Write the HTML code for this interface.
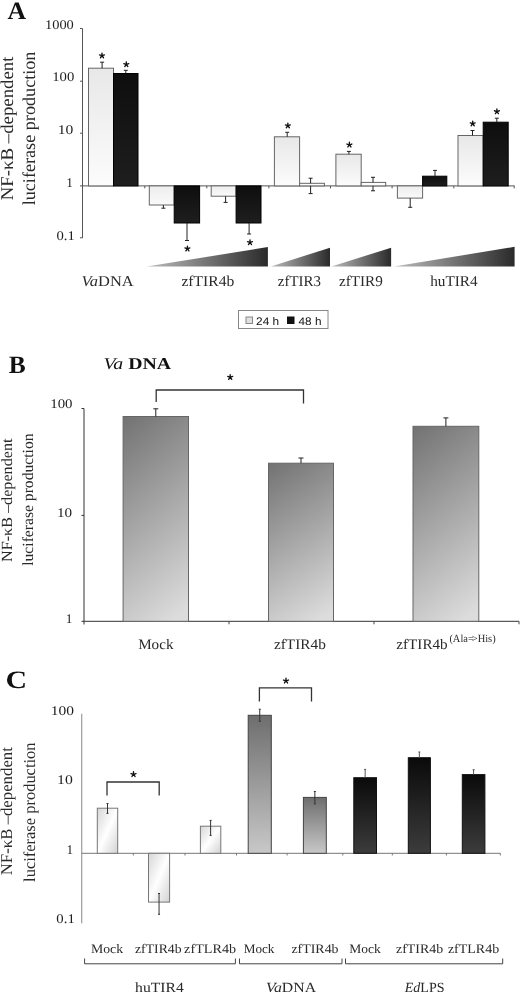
<!DOCTYPE html><html><head><meta charset="utf-8"><style>html,body{margin:0;padding:0;background:#fff;}svg{display:block;filter:grayscale(1);}text{text-rendering:geometricPrecision;}</style></head><body>
<svg width="520" height="992" viewBox="0 0 520 992">
<defs>
<linearGradient id="lgA" x1="0" y1="0" x2="0" y2="1"><stop offset="0" stop-color="#e8e8e8"/><stop offset="1" stop-color="#fcfcfc"/></linearGradient>
<linearGradient id="lgAn" x1="0" y1="0" x2="0" y2="1"><stop offset="0" stop-color="#ededed"/><stop offset="1" stop-color="#fafafa"/></linearGradient>
<linearGradient id="dkA" x1="0" y1="0" x2="0" y2="1"><stop offset="0" stop-color="#0e0e0e"/><stop offset="1" stop-color="#1e1e1e"/></linearGradient>
<linearGradient id="wedge" x1="0" y1="0" x2="1" y2="0"><stop offset="0" stop-color="#bdbdbd"/><stop offset="1" stop-color="#2a2a2a"/></linearGradient>
<linearGradient id="gB" x1="0" y1="0" x2="0.3" y2="1.12"><stop offset="0" stop-color="#727272"/><stop offset="1" stop-color="#dcdcdc"/></linearGradient>
<linearGradient id="gCw" x1="0" y1="0" x2="1" y2="1"><stop offset="0" stop-color="#d6d6d6"/><stop offset="0.5" stop-color="#ffffff"/><stop offset="1" stop-color="#d2d2d2"/></linearGradient>
<linearGradient id="gCg" x1="0" y1="0" x2="0" y2="1"><stop offset="0" stop-color="#6e6e6e"/><stop offset="1" stop-color="#c8c8c8"/></linearGradient>
<linearGradient id="gCk" x1="0" y1="0" x2="0" y2="1"><stop offset="0" stop-color="#0a0a0a"/><stop offset="1" stop-color="#3c3c3c"/></linearGradient>
</defs>
<text x="7.50" y="18.5" font-family='"Liberation Serif", serif' font-size="25" font-weight="bold" font-style="normal" fill="#111" textLength="18.56" lengthAdjust="spacingAndGlyphs">A</text>
<line x1="82.5" y1="28.5" x2="82.5" y2="238" stroke="#555" stroke-width="1"/>
<line x1="80.0" y1="28.5" x2="82.5" y2="28.5" stroke="#555" stroke-width="1"/>
<line x1="80.0" y1="81.2" x2="82.5" y2="81.2" stroke="#555" stroke-width="1"/>
<line x1="80.0" y1="133.2" x2="82.5" y2="133.2" stroke="#555" stroke-width="1"/>
<line x1="80.0" y1="185.9" x2="82.5" y2="185.9" stroke="#555" stroke-width="1"/>
<line x1="80.0" y1="237.8" x2="82.5" y2="237.8" stroke="#555" stroke-width="1"/>
<text x="45.03" y="28.5" font-family='"Liberation Serif", serif' font-size="13.3" font-weight="normal" font-style="normal" fill="#1e1e1e" textLength="28.81" lengthAdjust="spacingAndGlyphs">1000</text>
<text x="52.19" y="81.3" font-family='"Liberation Serif", serif' font-size="13.3" font-weight="normal" font-style="normal" fill="#1e1e1e" textLength="22.07" lengthAdjust="spacingAndGlyphs">100</text>
<text x="57.75" y="134.1" font-family='"Liberation Serif", serif' font-size="13.3" font-weight="normal" font-style="normal" fill="#1e1e1e" textLength="15.59" lengthAdjust="spacingAndGlyphs">10</text>
<text x="66.35" y="186.8" font-family='"Liberation Serif", serif' font-size="13.3" font-weight="normal" font-style="normal" fill="#1e1e1e">1</text>
<text x="56.50" y="239.5" font-family='"Liberation Serif", serif' font-size="13.3" font-weight="normal" font-style="normal" fill="#1e1e1e" textLength="18.29" lengthAdjust="spacingAndGlyphs">0.1</text>
<line x1="82.5" y1="185.9" x2="514.5" y2="185.9" stroke="#555" stroke-width="1"/>
<line x1="144.8" y1="185.9" x2="144.8" y2="188.4" stroke="#555" stroke-width="1"/>
<line x1="206.8" y1="185.9" x2="206.8" y2="188.4" stroke="#555" stroke-width="1"/>
<line x1="268.9" y1="185.9" x2="268.9" y2="188.4" stroke="#555" stroke-width="1"/>
<line x1="330.5" y1="185.9" x2="330.5" y2="188.4" stroke="#555" stroke-width="1"/>
<line x1="392.1" y1="185.9" x2="392.1" y2="188.4" stroke="#555" stroke-width="1"/>
<line x1="453.8" y1="185.9" x2="453.8" y2="188.4" stroke="#555" stroke-width="1"/>
<line x1="514.2" y1="185.9" x2="514.2" y2="188.4" stroke="#555" stroke-width="1"/>
<rect x="88.5" y="68.2" width="25.00" height="117.70" fill="url(#lgA)" stroke="#666" stroke-width="1"/>
<line x1="102.1" y1="68.2" x2="102.1" y2="62.2" stroke="#222" stroke-width="1"/>
<line x1="100.1" y1="62.2" x2="104.1" y2="62.2" stroke="#222" stroke-width="1"/>
<rect x="113.5" y="73.5" width="24.50" height="112.40" fill="url(#dkA)" stroke="#000" stroke-width="1"/>
<line x1="125.8" y1="73.5" x2="125.8" y2="70.3" stroke="#222" stroke-width="1"/>
<line x1="123.8" y1="70.3" x2="127.8" y2="70.3" stroke="#222" stroke-width="1"/>
<rect x="149.3" y="185.9" width="24.90" height="19.10" fill="url(#lgAn)" stroke="#666" stroke-width="1"/>
<line x1="163.4" y1="205" x2="163.4" y2="208.2" stroke="#222" stroke-width="1"/>
<line x1="161.4" y1="208.2" x2="165.4" y2="208.2" stroke="#222" stroke-width="1"/>
<rect x="174.2" y="185.9" width="25.40" height="37.10" fill="url(#dkA)" stroke="#000" stroke-width="1"/>
<line x1="187" y1="223" x2="187" y2="240.5" stroke="#222" stroke-width="1"/>
<line x1="185.0" y1="240.5" x2="189.0" y2="240.5" stroke="#222" stroke-width="1"/>
<rect x="211.2" y="185.9" width="24.90" height="10.30" fill="url(#lgAn)" stroke="#666" stroke-width="1"/>
<line x1="225.6" y1="196.2" x2="225.6" y2="202.4" stroke="#222" stroke-width="1"/>
<line x1="223.6" y1="202.4" x2="227.6" y2="202.4" stroke="#222" stroke-width="1"/>
<rect x="236.1" y="185.9" width="24.90" height="37.10" fill="url(#dkA)" stroke="#000" stroke-width="1"/>
<line x1="249.1" y1="223" x2="249.1" y2="234" stroke="#222" stroke-width="1"/>
<line x1="247.1" y1="234" x2="251.1" y2="234" stroke="#222" stroke-width="1"/>
<rect x="274.4" y="136.8" width="25.20" height="49.10" fill="url(#lgA)" stroke="#666" stroke-width="1"/>
<line x1="287.2" y1="136.8" x2="287.2" y2="132.3" stroke="#222" stroke-width="1"/>
<line x1="285.2" y1="132.3" x2="289.2" y2="132.3" stroke="#222" stroke-width="1"/>
<rect x="299.6" y="183.3" width="24.80" height="2.60" fill="#fdfdfd" stroke="#666" stroke-width="1"/>
<line x1="310.6" y1="178.2" x2="310.6" y2="183.3" stroke="#222" stroke-width="1"/>
<line x1="310.6" y1="185.9" x2="310.6" y2="193.6" stroke="#222" stroke-width="1"/>
<line x1="308.6" y1="178.2" x2="312.6" y2="178.2" stroke="#222" stroke-width="1"/>
<line x1="308.6" y1="193.6" x2="312.6" y2="193.6" stroke="#222" stroke-width="1"/>
<rect x="335.9" y="154.2" width="25.30" height="31.70" fill="url(#lgA)" stroke="#666" stroke-width="1"/>
<line x1="348.9" y1="154.2" x2="348.9" y2="151.4" stroke="#222" stroke-width="1"/>
<line x1="346.9" y1="151.4" x2="350.9" y2="151.4" stroke="#222" stroke-width="1"/>
<rect x="361.2" y="182.4" width="24.50" height="3.50" fill="#fdfdfd" stroke="#666" stroke-width="1"/>
<line x1="373" y1="177.3" x2="373" y2="182.4" stroke="#222" stroke-width="1"/>
<line x1="373" y1="185.9" x2="373" y2="190.8" stroke="#222" stroke-width="1"/>
<line x1="371" y1="177.3" x2="375" y2="177.3" stroke="#222" stroke-width="1"/>
<line x1="371" y1="190.8" x2="375" y2="190.8" stroke="#222" stroke-width="1"/>
<rect x="397.4" y="185.9" width="25.20" height="12.20" fill="url(#lgAn)" stroke="#666" stroke-width="1"/>
<line x1="410.2" y1="198.1" x2="410.2" y2="207.3" stroke="#222" stroke-width="1"/>
<line x1="408.2" y1="207.3" x2="412.2" y2="207.3" stroke="#222" stroke-width="1"/>
<rect x="422.6" y="176.2" width="24.20" height="9.70" fill="url(#dkA)" stroke="#000" stroke-width="1"/>
<line x1="435" y1="176.2" x2="435" y2="170.4" stroke="#222" stroke-width="1"/>
<line x1="433.0" y1="170.4" x2="437.0" y2="170.4" stroke="#222" stroke-width="1"/>
<rect x="458" y="135.5" width="25.20" height="50.40" fill="url(#lgA)" stroke="#666" stroke-width="1"/>
<line x1="472.5" y1="135.5" x2="472.5" y2="130.5" stroke="#222" stroke-width="1"/>
<line x1="470.5" y1="130.5" x2="474.5" y2="130.5" stroke="#222" stroke-width="1"/>
<rect x="483.2" y="122.2" width="25.00" height="63.70" fill="url(#dkA)" stroke="#000" stroke-width="1"/>
<line x1="496.8" y1="122.2" x2="496.8" y2="118.2" stroke="#222" stroke-width="1"/>
<line x1="494.8" y1="118.2" x2="498.8" y2="118.2" stroke="#222" stroke-width="1"/>
<path d="M102.00,55.65L102.00,53.05M102.00,55.65L104.47,54.85M102.00,55.65L103.53,57.75M102.00,55.65L100.47,57.75M102.00,55.65L99.53,54.85" stroke="#111" stroke-width="1.35" stroke-linecap="round" fill="none"/>
<path d="M126.30,64.45L126.30,61.85M126.30,64.45L128.77,63.65M126.30,64.45L127.83,66.55M126.30,64.45L124.77,66.55M126.30,64.45L123.83,63.65" stroke="#111" stroke-width="1.35" stroke-linecap="round" fill="none"/>
<path d="M187.40,248.75L187.40,246.15M187.40,248.75L189.87,247.95M187.40,248.75L188.93,250.85M187.40,248.75L185.87,250.85M187.40,248.75L184.93,247.95" stroke="#111" stroke-width="1.35" stroke-linecap="round" fill="none"/>
<path d="M250.00,242.45L250.00,239.85M250.00,242.45L252.47,241.65M250.00,242.45L251.53,244.55M250.00,242.45L248.47,244.55M250.00,242.45L247.53,241.65" stroke="#111" stroke-width="1.35" stroke-linecap="round" fill="none"/>
<path d="M287.85,125.65L287.85,123.05M287.85,125.65L290.32,124.85M287.85,125.65L289.38,127.75M287.85,125.65L286.32,127.75M287.85,125.65L285.38,124.85" stroke="#111" stroke-width="1.35" stroke-linecap="round" fill="none"/>
<path d="M349.40,144.85L349.40,142.25M349.40,144.85L351.87,144.05M349.40,144.85L350.93,146.95M349.40,144.85L347.87,146.95M349.40,144.85L346.93,144.05" stroke="#111" stroke-width="1.35" stroke-linecap="round" fill="none"/>
<path d="M472.70,123.65L472.70,121.05M472.70,123.65L475.17,122.85M472.70,123.65L474.23,125.75M472.70,123.65L471.17,125.75M472.70,123.65L470.23,122.85" stroke="#111" stroke-width="1.35" stroke-linecap="round" fill="none"/>
<path d="M496.90,111.55L496.90,108.95M496.90,111.55L499.37,110.75M496.90,111.55L498.43,113.65M496.90,111.55L495.37,113.65M496.90,111.55L494.43,110.75" stroke="#111" stroke-width="1.35" stroke-linecap="round" fill="none"/>
<polygon points="146.7,266.5 267.9,266.5 267.9,247.1" fill="url(#wedge)"/>
<polygon points="270.8,266.5 330,266.5 330,247.7" fill="url(#wedge)"/>
<polygon points="331.4,266.5 391.1,266.5 391.1,247.7" fill="url(#wedge)"/>
<polygon points="394,266.5 514.6,266.5 514.6,246.8" fill="url(#wedge)"/>
<text x="81.61" y="286" font-family='"Liberation Serif", serif' font-size="15" font-weight="normal" font-style="normal" fill="#2a2a2a" textLength="52.04" lengthAdjust="spacingAndGlyphs"><tspan font-style="italic">Va</tspan>DNA</text>
<text x="181.46" y="286.2" font-family='"Liberation Serif", serif' font-size="15" font-weight="normal" font-style="normal" fill="#2a2a2a" textLength="52.80" lengthAdjust="spacingAndGlyphs">zfTIR4b</text>
<text x="277.80" y="286.2" font-family='"Liberation Serif", serif' font-size="15" font-weight="normal" font-style="normal" fill="#2a2a2a" textLength="43.12" lengthAdjust="spacingAndGlyphs">zfTIR3</text>
<text x="338.99" y="286.2" font-family='"Liberation Serif", serif' font-size="15" font-weight="normal" font-style="normal" fill="#2a2a2a" textLength="43.84" lengthAdjust="spacingAndGlyphs">zfTIR9</text>
<text x="430.18" y="286.2" font-family='"Liberation Serif", serif' font-size="15" font-weight="normal" font-style="normal" fill="#2a2a2a" textLength="47.50" lengthAdjust="spacingAndGlyphs">huTIR4</text>
<rect x="238.5" y="310.5" width="89.5" height="18" fill="#fff" stroke="#888" stroke-width="1"/>
<rect x="246" y="317" width="6.5" height="6.5" fill="#e0e0e0" stroke="#888" stroke-width="1"/>
<rect x="287.5" y="317" width="6.5" height="6.5" fill="#111" stroke="#111" stroke-width="1"/>
<text x="256.12" y="324.6" font-family='"Liberation Sans", sans-serif' font-size="11" font-weight="normal" font-style="normal" fill="#111" textLength="23.03" lengthAdjust="spacingAndGlyphs">24 h</text>
<text x="298.60" y="324.6" font-family='"Liberation Sans", sans-serif' font-size="11" font-weight="normal" font-style="normal" fill="#111" textLength="22.85" lengthAdjust="spacingAndGlyphs">48 h</text>
<text transform="translate(12.6,200.35) rotate(-90)" x="0" y="0" font-family='"Liberation Serif", serif' font-size="18" font-weight="normal" font-style="normal" fill="#2a2a2a" textLength="143.83" lengthAdjust="spacingAndGlyphs">NF-κB –dependent</text>
<text transform="translate(34.5,205.31) rotate(-90)" x="0" y="0" font-family='"Liberation Serif", serif' font-size="18" font-weight="normal" font-style="normal" fill="#2a2a2a" textLength="153.75" lengthAdjust="spacingAndGlyphs">luciferase production</text>
<text x="8.75" y="373.2" font-family='"Liberation Serif", serif' font-size="25" font-weight="bold" font-style="normal" fill="#111" textLength="16.95" lengthAdjust="spacingAndGlyphs">B</text>
<text x="103.40" y="368.9" font-family='"Liberation Serif", serif' font-size="16.5" font-weight="bold" font-style="normal" fill="#111" textLength="67.75" lengthAdjust="spacingAndGlyphs"><tspan font-style="italic" font-weight="normal">Va</tspan> DNA</text>
<line x1="84.0" y1="408.5" x2="84.0" y2="624.5" stroke="#333" stroke-width="1"/>
<line x1="81.5" y1="408.5" x2="84.0" y2="408.5" stroke="#333" stroke-width="1"/>
<line x1="81.5" y1="515.4" x2="84.0" y2="515.4" stroke="#333" stroke-width="1"/>
<line x1="81.5" y1="621.3" x2="84.0" y2="621.3" stroke="#333" stroke-width="1"/>
<text x="50.26" y="408.2" font-family='"Liberation Serif", serif' font-size="13.3" font-weight="normal" font-style="normal" fill="#1e1e1e" textLength="22.30" lengthAdjust="spacingAndGlyphs">100</text>
<text x="56.93" y="516.9" font-family='"Liberation Serif", serif' font-size="13.3" font-weight="normal" font-style="normal" fill="#1e1e1e" textLength="15.11" lengthAdjust="spacingAndGlyphs">10</text>
<text x="65.75" y="622.7" font-family='"Liberation Serif", serif' font-size="13.3" font-weight="normal" font-style="normal" fill="#1e1e1e">1</text>
<line x1="84.0" y1="621.3" x2="519" y2="621.3" stroke="#333" stroke-width="1"/>
<line x1="229" y1="621.3" x2="229" y2="624.3" stroke="#444" stroke-width="1"/>
<line x1="374" y1="621.3" x2="374" y2="624.3" stroke="#444" stroke-width="1"/>
<line x1="519" y1="621.3" x2="519" y2="624.3" stroke="#444" stroke-width="1"/>
<rect x="123.1" y="416.5" width="65.40" height="204.80" fill="url(#gB)" stroke="#666" stroke-width="1"/>
<line x1="155.8" y1="416.5" x2="155.8" y2="408.8" stroke="#222" stroke-width="1"/>
<line x1="153.3" y1="408.8" x2="158.3" y2="408.8" stroke="#222" stroke-width="1"/>
<rect x="268.5" y="463.2" width="65.00" height="158.10" fill="url(#gB)" stroke="#666" stroke-width="1"/>
<line x1="301.0" y1="463.2" x2="301.0" y2="458" stroke="#222" stroke-width="1"/>
<line x1="298.5" y1="458" x2="303.5" y2="458" stroke="#222" stroke-width="1"/>
<rect x="413" y="426.3" width="65.80" height="195.00" fill="url(#gB)" stroke="#666" stroke-width="1"/>
<line x1="445.9" y1="426.3" x2="445.9" y2="417.9" stroke="#222" stroke-width="1"/>
<line x1="443.4" y1="417.9" x2="448.4" y2="417.9" stroke="#222" stroke-width="1"/>
<polyline points="156.2,402 156.2,390 303.5,390 303.5,403.5" fill="none" stroke="#333" stroke-width="1.3"/>
<path d="M230.20,377.25L230.20,374.65M230.20,377.25L232.67,376.45M230.20,377.25L231.73,379.35M230.20,377.25L228.67,379.35M230.20,377.25L227.73,376.45" stroke="#111" stroke-width="1.35" stroke-linecap="round" fill="none"/>
<text x="138.16" y="649.2" font-family='"Liberation Serif", serif' font-size="14.5" font-weight="normal" font-style="normal" fill="#2a2a2a" textLength="35.32" lengthAdjust="spacingAndGlyphs">Mock</text>
<text x="273.94" y="648.7" font-family='"Liberation Serif", serif' font-size="14.5" font-weight="normal" font-style="normal" fill="#2a2a2a" textLength="51.89" lengthAdjust="spacingAndGlyphs">zfTIR4b</text>
<text x="396.36" y="648.7" font-family='"Liberation Serif", serif' font-size="14.5" font-weight="normal" font-style="normal" fill="#2a2a2a" textLength="51.27" lengthAdjust="spacingAndGlyphs">zfTIR4b</text>
<text x="449.39" y="642.2" font-family='"Liberation Serif", serif' font-size="11" font-weight="normal" font-style="normal" fill="#2a2a2a" textLength="46.26" lengthAdjust="spacingAndGlyphs">(Ala=<tspan dx="-2.2">&gt;</tspan>His)</text>
<text transform="translate(12.3,561.94) rotate(-90)" x="0" y="0" font-family='"Liberation Serif", serif' font-size="15.5" font-weight="normal" font-style="normal" fill="#2a2a2a" textLength="123.41" lengthAdjust="spacingAndGlyphs">NF-κB –dependent</text>
<text transform="translate(33.3,565.81) rotate(-90)" x="0" y="0" font-family='"Liberation Serif", serif' font-size="15.5" font-weight="normal" font-style="normal" fill="#2a2a2a" textLength="132.38" lengthAdjust="spacingAndGlyphs">luciferase production</text>
<text x="5.51" y="688.3" font-family='"Liberation Serif", serif' font-size="25" font-weight="bold" font-style="normal" fill="#111" textLength="21.55" lengthAdjust="spacingAndGlyphs">C</text>
<line x1="81.75" y1="713.8" x2="81.75" y2="923.3" stroke="#888" stroke-width="1"/>
<text x="50.67" y="714.5" font-family='"Liberation Serif", serif' font-size="13.3" font-weight="normal" font-style="normal" fill="#1e1e1e" textLength="23.24" lengthAdjust="spacingAndGlyphs">100</text>
<text x="57.14" y="784.25" font-family='"Liberation Serif", serif' font-size="13.3" font-weight="normal" font-style="normal" fill="#1e1e1e" textLength="15.71" lengthAdjust="spacingAndGlyphs">10</text>
<text x="66.50" y="853.75" font-family='"Liberation Serif", serif' font-size="13.3" font-weight="normal" font-style="normal" fill="#1e1e1e">1</text>
<text x="56.39" y="923.25" font-family='"Liberation Serif", serif' font-size="13.3" font-weight="normal" font-style="normal" fill="#1e1e1e" textLength="18.41" lengthAdjust="spacingAndGlyphs">0.1</text>
<line x1="81.75" y1="853.3" x2="500.5" y2="853.3" stroke="#777" stroke-width="1"/>
<line x1="133.3" y1="853.3" x2="133.3" y2="855.5" stroke="#777" stroke-width="1"/>
<line x1="185" y1="853.3" x2="185" y2="855.5" stroke="#777" stroke-width="1"/>
<line x1="236.5" y1="853.3" x2="236.5" y2="855.5" stroke="#777" stroke-width="1"/>
<line x1="287.1" y1="853.3" x2="287.1" y2="855.5" stroke="#777" stroke-width="1"/>
<line x1="342.8" y1="853.3" x2="342.8" y2="855.5" stroke="#777" stroke-width="1"/>
<line x1="392.3" y1="853.3" x2="392.3" y2="855.5" stroke="#777" stroke-width="1"/>
<line x1="446.4" y1="853.3" x2="446.4" y2="855.5" stroke="#777" stroke-width="1"/>
<line x1="500.3" y1="853.3" x2="500.3" y2="855.5" stroke="#777" stroke-width="1"/>
<rect x="97.3" y="808.2" width="20.40" height="45.10" fill="url(#gCw)" stroke="#777" stroke-width="1"/>
<line x1="107.5" y1="803.5" x2="107.5" y2="813.4" stroke="#333" stroke-width="1"/>
<line x1="106.5" y1="803.5" x2="108.5" y2="803.5" stroke="#333" stroke-width="1"/>
<line x1="106.5" y1="813.4" x2="108.5" y2="813.4" stroke="#333" stroke-width="1"/>
<rect x="148.5" y="853.3" width="21.10" height="48.80" fill="url(#gCw)" stroke="#777" stroke-width="1"/>
<line x1="159.05" y1="893.5" x2="159.05" y2="914.3" stroke="#333" stroke-width="1"/>
<line x1="158.05" y1="893.5" x2="160.05" y2="893.5" stroke="#333" stroke-width="1"/>
<line x1="158.05" y1="914.3" x2="160.05" y2="914.3" stroke="#333" stroke-width="1"/>
<rect x="200.4" y="826.2" width="20.40" height="27.10" fill="url(#gCw)" stroke="#777" stroke-width="1"/>
<line x1="210.60000000000002" y1="820.4" x2="210.60000000000002" y2="835.4" stroke="#333" stroke-width="1"/>
<line x1="209.60000000000002" y1="820.4" x2="211.60000000000002" y2="820.4" stroke="#333" stroke-width="1"/>
<line x1="209.60000000000002" y1="835.4" x2="211.60000000000002" y2="835.4" stroke="#333" stroke-width="1"/>
<rect x="248.2" y="715.3" width="23.10" height="138.00" fill="url(#gCg)" stroke="#444" stroke-width="1"/>
<line x1="259.75" y1="709.2" x2="259.75" y2="721.3" stroke="#333" stroke-width="1"/>
<line x1="258.75" y1="709.2" x2="260.75" y2="709.2" stroke="#333" stroke-width="1"/>
<line x1="258.75" y1="721.3" x2="260.75" y2="721.3" stroke="#333" stroke-width="1"/>
<rect x="303.4" y="797.4" width="22.90" height="55.90" fill="url(#gCg)" stroke="#444" stroke-width="1"/>
<line x1="314.85" y1="791.5" x2="314.85" y2="803.8" stroke="#333" stroke-width="1"/>
<line x1="313.85" y1="791.5" x2="315.85" y2="791.5" stroke="#333" stroke-width="1"/>
<line x1="313.85" y1="803.8" x2="315.85" y2="803.8" stroke="#333" stroke-width="1"/>
<rect x="353.8" y="777.7" width="22.70" height="75.60" fill="url(#gCk)" stroke="#111" stroke-width="1"/>
<line x1="365.15" y1="769.4" x2="365.15" y2="777.7" stroke="#555" stroke-width="1"/>
<line x1="364.15" y1="769.4" x2="366.15" y2="769.4" stroke="#555" stroke-width="1"/>
<rect x="408.3" y="757.7" width="22.10" height="95.60" fill="url(#gCk)" stroke="#111" stroke-width="1"/>
<line x1="419.35" y1="752" x2="419.35" y2="757.7" stroke="#555" stroke-width="1"/>
<line x1="418.35" y1="752" x2="420.35" y2="752" stroke="#555" stroke-width="1"/>
<rect x="462.3" y="774.6" width="22.60" height="78.70" fill="url(#gCk)" stroke="#111" stroke-width="1"/>
<line x1="473.6" y1="769.7" x2="473.6" y2="774.6" stroke="#555" stroke-width="1"/>
<line x1="472.6" y1="769.7" x2="474.6" y2="769.7" stroke="#555" stroke-width="1"/>
<polyline points="107,795.5 107,782 159.2,782 159.2,795.5" fill="none" stroke="#333" stroke-width="1.3"/>
<path d="M133.50,774.35L133.50,771.75M133.50,774.35L135.97,773.55M133.50,774.35L135.03,776.45M133.50,774.35L131.97,776.45M133.50,774.35L131.03,773.55" stroke="#111" stroke-width="1.35" stroke-linecap="round" fill="none"/>
<polyline points="259.4,701.5 259.4,687.9 311.5,687.9 311.5,701.5" fill="none" stroke="#333" stroke-width="1.3"/>
<path d="M286.00,680.85L286.00,678.25M286.00,680.85L288.47,680.05M286.00,680.85L287.53,682.95M286.00,680.85L284.47,682.95M286.00,680.85L283.53,680.05" stroke="#111" stroke-width="1.35" stroke-linecap="round" fill="none"/>
<text x="90.94" y="953.1" font-family='"Liberation Serif", serif' font-size="13" font-weight="normal" font-style="normal" fill="#2a2a2a" textLength="32.12" lengthAdjust="spacingAndGlyphs">Mock</text>
<text x="135.04" y="953.1" font-family='"Liberation Serif", serif' font-size="13" font-weight="normal" font-style="normal" fill="#2a2a2a" textLength="46.51" lengthAdjust="spacingAndGlyphs">zfTIR4b</text>
<text x="184.11" y="953.1" font-family='"Liberation Serif", serif' font-size="13" font-weight="normal" font-style="normal" fill="#2a2a2a" textLength="52.01" lengthAdjust="spacingAndGlyphs">zfTLR4b</text>
<text x="243.69" y="953.1" font-family='"Liberation Serif", serif' font-size="13" font-weight="normal" font-style="normal" fill="#2a2a2a" textLength="30.76" lengthAdjust="spacingAndGlyphs">Mock</text>
<text x="291.43" y="953.1" font-family='"Liberation Serif", serif' font-size="13" font-weight="normal" font-style="normal" fill="#2a2a2a" textLength="47.12" lengthAdjust="spacingAndGlyphs">zfTIR4b</text>
<text x="349.36" y="953.1" font-family='"Liberation Serif", serif' font-size="13" font-weight="normal" font-style="normal" fill="#2a2a2a" textLength="31.49" lengthAdjust="spacingAndGlyphs">Mock</text>
<text x="396.03" y="953.1" font-family='"Liberation Serif", serif' font-size="13" font-weight="normal" font-style="normal" fill="#2a2a2a" textLength="47.12" lengthAdjust="spacingAndGlyphs">zfTIR4b</text>
<text x="447.92" y="953.1" font-family='"Liberation Serif", serif' font-size="13" font-weight="normal" font-style="normal" fill="#2a2a2a" textLength="51.28" lengthAdjust="spacingAndGlyphs">zfTLR4b</text>
<polyline points="84.6,958.5 84.6,963.8 235.4,963.8 235.4,958.5" fill="none" stroke="#444" stroke-width="1"/>
<polyline points="239.5,958.5 239.5,963.8 342,963.8 342,958.5" fill="none" stroke="#444" stroke-width="1"/>
<polyline points="345.5,958.5 345.5,963.8 502.7,963.8 502.7,958.5" fill="none" stroke="#444" stroke-width="1"/>
<text x="135.08" y="991.8" font-family='"Liberation Serif", serif' font-size="14" font-weight="normal" font-style="normal" fill="#2a2a2a" textLength="48.64" lengthAdjust="spacingAndGlyphs">huTIR4</text>
<text x="266.07" y="991.8" font-family='"Liberation Serif", serif' font-size="14" font-weight="normal" font-style="normal" fill="#2a2a2a" textLength="50.02" lengthAdjust="spacingAndGlyphs"><tspan font-style="italic">Va</tspan>DNA</text>
<text x="404.80" y="991.8" font-family='"Liberation Serif", serif' font-size="14" font-weight="normal" font-style="normal" fill="#2a2a2a" textLength="39.69" lengthAdjust="spacingAndGlyphs"><tspan font-style="italic">Ed</tspan>LPS</text>
<text transform="translate(12.4,875.32) rotate(-90)" x="0" y="0" font-family='"Liberation Serif", serif' font-size="16.5" font-weight="normal" font-style="normal" fill="#2a2a2a" textLength="128.21" lengthAdjust="spacingAndGlyphs">NF-κB –dependent</text>
<text transform="translate(34.5,881.90) rotate(-90)" x="0" y="0" font-family='"Liberation Serif", serif' font-size="16.5" font-weight="normal" font-style="normal" fill="#2a2a2a" textLength="139.43" lengthAdjust="spacingAndGlyphs">luciferase production</text>
</svg></body></html>
